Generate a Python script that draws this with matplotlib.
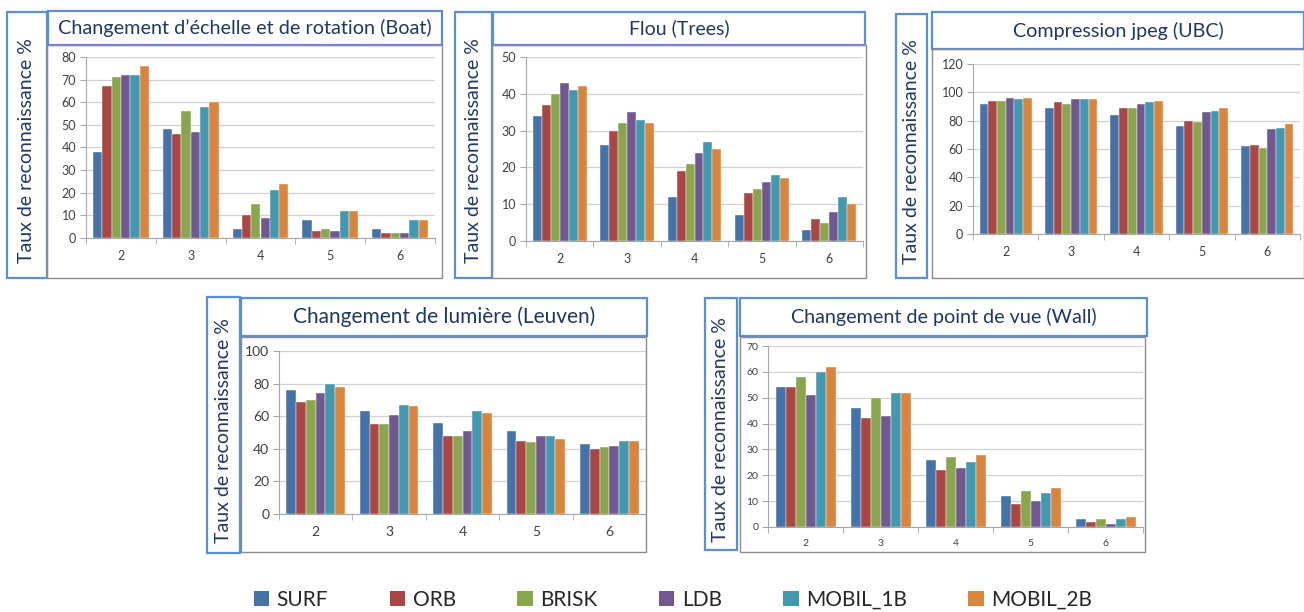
import matplotlib
matplotlib.use("Agg")
import matplotlib.pyplot as plt
import numpy as np
from matplotlib.patches import Rectangle, Patch

plt.rcParams["font.family"] = ["Lato", "DejaVu Sans"]

# --- data ---
categories = ["2", "3", "4", "5", "6"]
methods = ["SURF", "ORB", "BRISK", "LDB", "MOBIL_1B", "MOBIL_2B"]
colors = ["#4572A7", "#AA4643", "#89A54E", "#71588F", "#4198AF", "#DB843D"]

# rows = methods, columns = categories
boat = [[38, 48, 4, 8, 4],
        [67, 46, 10, 3, 2],
        [71, 56, 15, 4, 2],
        [72, 47, 9, 3, 2],
        [72, 58, 21, 12, 8],
        [76, 60, 24, 12, 8]]
trees = [[34, 26, 12, 7, 3],
         [37, 30, 19, 13, 6],
         [40, 32, 21, 14, 5],
         [43, 35, 24, 16, 8],
         [41, 33, 27, 18, 12],
         [42, 32, 25, 17, 10]]
ubc = [[92, 89, 84, 76, 62],
       [94, 93, 89, 80, 63],
       [94, 92, 89, 79, 61],
       [96, 95, 92, 86, 74],
       [95, 95, 93, 87, 75],
       [96, 95, 94, 89, 78]]
leuven = [[76, 63, 56, 51, 43],
          [69, 55, 48, 45, 40],
          [70, 55, 48, 44, 41],
          [74, 61, 51, 48, 42],
          [80, 67, 63, 48, 45],
          [78, 66, 62, 46, 45]]
wall = [[54, 46, 26, 12, 3],
        [54, 42, 22, 9, 2],
        [58, 50, 27, 14, 3],
        [51, 43, 23, 10, 1],
        [60, 52, 25, 13, 3],
        [62, 52, 28, 15, 4]]

ylabel = "Taux de reconnaissance %"
BLUE = "#5B8DD9"
NAVY = "#1F3864"

W, H = 1304, 612
fig = plt.figure(figsize=(W / 100, H / 100), dpi=100)


def fx(px):
    return px / W


def fy(py):
    return 1 - py / H


def box(x0, y0, x1, y1, color, lw):
    fig.patches.append(Rectangle((fx(x0), fy(y1)), fx(x1) - fx(x0), fy(y0) - fy(y1),
                                 transform=fig.transFigure, fill=False,
                                 edgecolor=color, lw=lw, zorder=5))


def panel(data, title, ymax, ystep, lab_box, title_box, frame, axes_px, tick_fs=9, title_fs=14.2):
    box(*lab_box, BLUE, 1.6)
    box(*title_box, BLUE, 1.6)
    box(*frame, "#8C8C8C", 1.0)
    fig.text(fx((lab_box[0] + lab_box[2]) / 2), fy((lab_box[1] + lab_box[3]) / 2 + 6), ylabel,
             rotation=90, ha="center", va="center", fontsize=14, color=NAVY)
    fig.text(fx((title_box[0] + title_box[2]) / 2), fy((title_box[1] + title_box[3]) / 2), title,
             ha="center", va="center", fontsize=title_fs, color=NAVY)

    x0, y0, x1, y1 = axes_px
    ax = fig.add_axes([fx(x0), fy(y1), fx(x1) - fx(x0), fy(y0) - fy(y1)])
    x = np.arange(len(categories))
    bw = 0.8 / len(methods)
    for i, (vals, c) in enumerate(zip(data, colors)):
        ax.bar(x - 0.4 + bw * (i + 0.5), vals, width=bw, color=c,
               edgecolor="white", linewidth=0.3, zorder=3)
    ax.set_xlim(-0.5, len(categories) - 0.5)
    ax.set_ylim(0, ymax)
    ax.set_yticks(np.arange(0, ymax + 1, ystep))
    ax.set_xticks(x)
    ax.set_xticklabels(categories)
    ax.set_xticks(np.arange(-0.5, len(categories)), minor=True)
    ax.tick_params(axis="x", which="major", length=0, pad=9, labelsize=tick_fs, labelcolor="#404040")
    ax.tick_params(axis="x", which="minor", length=4, color="#A6A6A6")
    ax.tick_params(axis="y", length=4, color="#A6A6A6", labelsize=tick_fs, labelcolor="#404040", pad=3)
    ax.grid(axis="y", color="#D0D0D0", lw=0.9, zorder=0)
    for s in ("top", "right"):
        ax.spines[s].set_visible(False)
    for s in ("left", "bottom"):
        ax.spines[s].set_color("#A6A6A6")
    return ax


panel(boat, "Changement d\u2019\u00e9chelle et de rotation (Boat)", 80, 10,
      (7, 12, 47, 278), (48, 11, 442, 45), (47, 45, 442, 278), (86, 57, 435, 238),
      title_fs=14.3)
panel(trees, "Flou (Trees)", 50, 10,
      (455, 12, 492, 278), (493, 12, 865, 45), (492, 45, 866, 278), (526, 57, 863, 241),
      title_fs=14)
panel(ubc, "Compression jpeg (UBC)", 120, 20,
      (896, 14, 927, 278), (932, 12, 1304, 49), (932, 49, 1304, 278), (973, 64, 1300, 234),
      title_fs=14.2)
panel(leuven, "Changement de lumi\u00e8re (Leuven)", 100, 20,
      (207, 297, 240, 553), (241, 298, 647, 336), (241, 337, 646, 552), (279, 351, 646, 514),
      tick_fs=10, title_fs=15)
panel(wall, "Changement de point de vue (Wall)", 70, 10,
      (705, 298, 737, 550), (740, 298, 1147, 336), (740, 337, 1145, 552), (768, 346, 1143, 527),
      tick_fs=7.5, title_fs=14.2)

handles = [Patch(facecolor=c, edgecolor="none") for c in colors]
fig.legend(handles, methods, loc="center", bbox_to_anchor=(fx(673), fy(600)), ncol=6,
           frameon=False, fontsize=15, handlelength=0.75, handleheight=0.75,
           handletextpad=0.35, columnspacing=2.95, labelcolor="#262626")

fig.savefig("out.png", dpi=100)
